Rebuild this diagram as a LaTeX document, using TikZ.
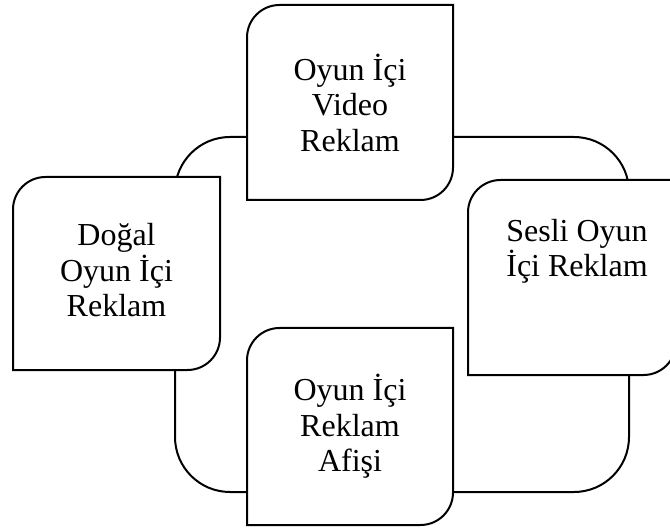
\documentclass[tikz,border=0pt]{standalone}
\usepackage{fontspec}
\setmainfont{Liberation Serif}
\begin{document}
\begin{tikzpicture}[x=1pt,y=1pt,
  box/.style={minimum width=206pt, minimum height=195pt, inner sep=0pt, outer sep=0pt},
  txt/.style={align=center, font=\fontsize{32}{35.5}\selectfont, inner sep=0pt},
  ring/.style={draw=black, line width=2pt, rounded corners=55pt},
  leaf/.style={draw=black, fill=white, line width=2pt}]
\useasboundingbox (0,0) rectangle (670,531);

% placeholders for the four boxes
\node[box] (vid) at (350,428.5) {};
\node[box, minimum width=207pt, minimum height=193pt] (dog) at (116.5,257.5) {};
\node[box, minimum width=208pt] (ses) at (572,253.5) {};
\node[box, minimum height=197pt] (afi) at (350,104.5) {};

% the cycle behind the boxes
\coordinate (cycSW) at (175,39);
\coordinate (cycNE) at (629,394);
\draw[ring] (cycSW) rectangle (cycNE);

% box outline: rounded top-left and bottom-right corners
\newcommand\leafbox[1]{%
  \draw[leaf] ([yshift=-32.5pt]#1.north west)
    arc[start angle=180, end angle=90, radius=32.5pt]
    -- (#1.north east)
    -- ([yshift=32.5pt]#1.south east)
    arc[start angle=0, end angle=-90, radius=32.5pt]
    -- (#1.south west) -- cycle;}
\leafbox{vid}
\leafbox{dog}
\leafbox{ses}
\leafbox{afi}

% labels
\node[txt] (vidT) at (vid) {Oyun İçi\\Video\\Reklam};
\node[txt] (dogT) at ([yshift=3pt]dog.center) {Doğal\\Oyun İçi\\Reklam};
\node[txt] (sesT) at ([xshift=5pt,yshift=26pt]ses.center) {Sesli Oyun\\İçi Reklam};
\node[txt] (afiT) at (afi) {Oyun İçi\\Reklam\\Afişi};
\end{tikzpicture}
\end{document}
